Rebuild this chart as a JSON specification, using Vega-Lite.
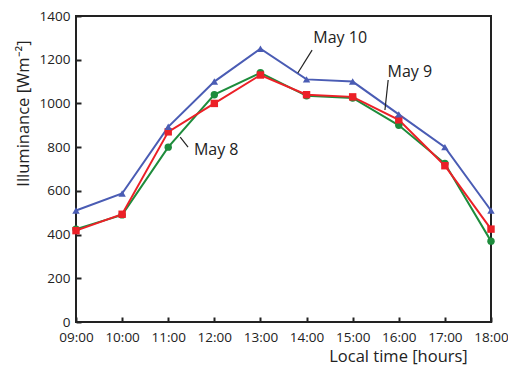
{
  "$schema": "https://vega.github.io/schema/vega-lite/v6.json",
  "width": 415,
  "height": 306,
  "autosize": {"type": "none"},
  "padding": {"left": 76, "top": 16, "right": 17, "bottom": 47},
  "background": "white",
  "config": {
    "font": "Open Sans",
    "view": {"stroke": "#222", "strokeWidth": 2},
    "axis": {
      "domain": false,
      "grid": false,
      "ticks": true,
      "tickColor": "#222",
      "tickWidth": 2,
      "tickSize": -5,
      "labelColor": "#222",
      "labelFont": "Open Sans",
      "titleFont": "Open Sans",
      "titleColor": "#222",
      "titleFontWeight": "normal",
      "labelFontSize": 13.5,
      "titleFontSize": 16.5
    }
  },
  "datasets": {
    "series": [
      {"hour": 9, "value": 425, "day": "May 8"},
      {"hour": 10, "value": 490, "day": "May 8"},
      {"hour": 11, "value": 800, "day": "May 8"},
      {"hour": 12, "value": 1040, "day": "May 8"},
      {"hour": 13, "value": 1140, "day": "May 8"},
      {"hour": 14, "value": 1035, "day": "May 8"},
      {"hour": 15, "value": 1025, "day": "May 8"},
      {"hour": 16, "value": 900, "day": "May 8"},
      {"hour": 17, "value": 725, "day": "May 8"},
      {"hour": 18, "value": 370, "day": "May 8"},
      {"hour": 9, "value": 418, "day": "May 9"},
      {"hour": 10, "value": 493, "day": "May 9"},
      {"hour": 11, "value": 870, "day": "May 9"},
      {"hour": 12, "value": 1000, "day": "May 9"},
      {"hour": 13, "value": 1130, "day": "May 9"},
      {"hour": 14, "value": 1040, "day": "May 9"},
      {"hour": 15, "value": 1030, "day": "May 9"},
      {"hour": 16, "value": 925, "day": "May 9"},
      {"hour": 17, "value": 715, "day": "May 9"},
      {"hour": 18, "value": 425, "day": "May 9"},
      {"hour": 9, "value": 510, "day": "May 10"},
      {"hour": 10, "value": 588, "day": "May 10"},
      {"hour": 11, "value": 893, "day": "May 10"},
      {"hour": 12, "value": 1100, "day": "May 10"},
      {"hour": 13, "value": 1250, "day": "May 10"},
      {"hour": 14, "value": 1110, "day": "May 10"},
      {"hour": 15, "value": 1100, "day": "May 10"},
      {"hour": 16, "value": 950, "day": "May 10"},
      {"hour": 17, "value": 800, "day": "May 10"},
      {"hour": 18, "value": 510, "day": "May 10"}
    ],
    "labels": [
      {"hour": 14.73, "value": 1299, "text": "May 10"},
      {"hour": 16.24, "value": 1144, "text": "May 9"},
      {"hour": 12.04, "value": 787, "text": "May 8"}
    ],
    "leaders": [
      {"h1": 14.12, "v1": 1244, "h2": 13.81, "v2": 1139},
      {"h1": 15.77, "v1": 1107, "h2": 15.70, "v2": 970},
      {"h1": 11.26, "v1": 846, "h2": 11.43, "v2": 800}
    ]
  },
  "layer": [
    {
      "data": {"name": "series"},
      "mark": {"type": "line", "strokeWidth": 2},
      "encoding": {
        "x": {
          "field": "hour", "type": "quantitative",
          "scale": {"domain": [9, 18], "nice": false, "zero": false},
          "axis": {
            "values": [9, 10, 11, 12, 13, 14, 15, 16, 17, 18],
            "labelExpr": "(datum.value < 10 ? '0' : '') + datum.value + ':00'",
            "title": "Local time [hours]",
            "titleX": 322,
            "titleAlign": "center",
            "labelPadding": 13,
            "titlePadding": 5,
            "labelFlush": false
          }
        },
        "y": {
          "field": "value", "type": "quantitative",
          "scale": {"domain": [0, 1400], "nice": false},
          "axis": {
            "values": [0, 200, 400, 600, 800, 1000, 1200, 1400],
            "format": "d",
            "title": "Illuminance [Wm⁻²]",
            "titleY": 97,
            "titleAlign": "center",
            "labelPadding": 11,
            "titlePadding": 8
          }
        },
        "color": {
          "field": "day", "type": "nominal",
          "scale": {"domain": ["May 8", "May 9", "May 10"], "range": ["#1e8c3c", "#ec2027", "#4a5cb4"]},
          "legend": null
        },
        "order": {"field": "hour"}
      }
    },
    {
      "data": {"name": "series"},
      "mark": {"type": "point", "filled": true, "opacity": 1, "size": 55},
      "encoding": {
        "x": {"field": "hour", "type": "quantitative"},
        "y": {"field": "value", "type": "quantitative"},
        "color": {"field": "day", "type": "nominal", "legend": null},
        "shape": {
          "field": "day", "type": "nominal",
          "scale": {"domain": ["May 8", "May 9", "May 10"], "range": ["circle", "square", "triangle-up"]},
          "legend": null
        }
      }
    },
    {
      "data": {"name": "leaders"},
      "mark": {"type": "rule", "color": "#222", "strokeWidth": 1.2},
      "encoding": {
        "x": {"field": "h1", "type": "quantitative"},
        "y": {"field": "v1", "type": "quantitative"},
        "x2": {"field": "h2"},
        "y2": {"field": "v2"}
      }
    },
    {
      "data": {"name": "labels"},
      "mark": {"type": "text", "fontSize": 16, "color": "#222", "font": "Open Sans"},
      "encoding": {
        "x": {"field": "hour", "type": "quantitative"},
        "y": {"field": "value", "type": "quantitative"},
        "text": {"field": "text"}
      }
    }
  ]
}
